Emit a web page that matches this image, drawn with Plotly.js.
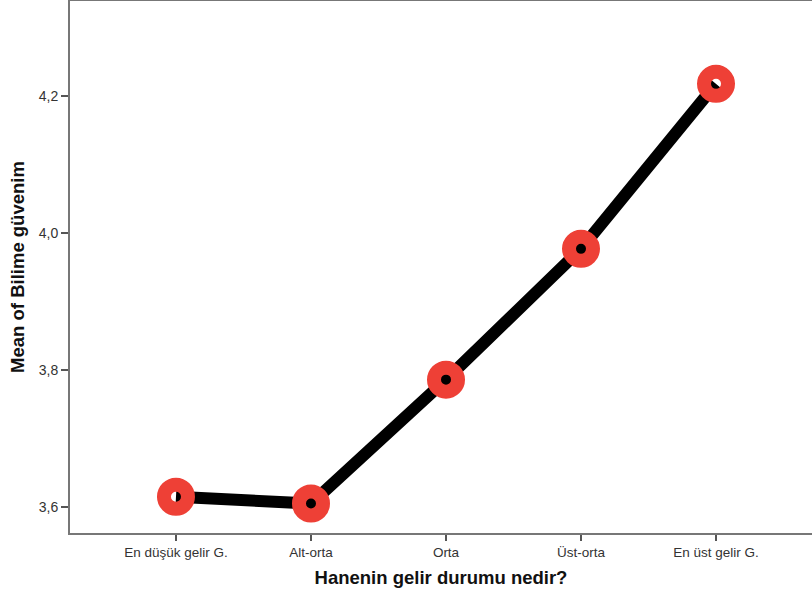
<!DOCTYPE html>
<html><head><meta charset="utf-8">
<script src="https://cdn.plot.ly/plotly-3.0.1.min.js"></script>
<style>html,body{margin:0;padding:0;background:#fff}</style>
</head><body>
<div id="chart" style="width:812px;height:595px"></div>
<script>
const categories = ["En düşük gelir G.", "Alt-orta", "Orta", "Üst-orta", "En üst gelir G."];
const meanValues = [3.615, 3.605, 3.786, 3.977, 4.218];
const yTicks = [3.6, 3.8, 4.0, 4.2];

const trace = {
  x: categories.map((c, i) => i),
  y: meanValues,
  type: 'scatter',
  mode: 'lines+markers',
  line: {color: '#000000', width: 12},
  marker: {symbol: 'circle-open', size: 24, color: '#ee4036', line: {color: '#ee4036', width: 14}},
  hoverinfo: 'skip'
};

const layout = {
  width: 812, height: 595,
  margin: {l: 70, r: 0, t: 1, b: 62},
  paper_bgcolor: '#ffffff', plot_bgcolor: '#ffffff',
  separators: ',.',
  showlegend: false,
  font: {family: 'Liberation Sans, Arial, sans-serif', color: '#333'},
  xaxis: {
    range: [-0.785, 4.711],
    tickvals: categories.map((c, i) => i),
    ticktext: categories,
    ticks: 'outside', ticklen: 6, tickwidth: 1.5, tickcolor: '#555',
    showline: true, linecolor: '#777', linewidth: 2, mirror: true,
    showgrid: false, zeroline: false,
    tickfont: {size: 13.5, color: '#333'},
    title: {text: 'Hanenin gelir durumu nedir?', font: {size: 18.5, color: '#111', family: 'Liberation Sans, Arial, sans-serif', weight: 'bold'}, standoff: 12}
  },
  yaxis: {
    range: [3.562, 4.339],
    tickvals: yTicks,
    tickformat: '.1f',
    ticks: 'outside', ticklen: 7, tickwidth: 1.5, tickcolor: '#555',
    showline: true, linecolor: '#777', linewidth: 2,
    showgrid: false, zeroline: false,
    tickfont: {size: 14, color: '#333'},
    title: {text: 'Mean of Bilime güvenim', font: {size: 18.5, color: '#111', family: 'Liberation Sans, Arial, sans-serif', weight: 'bold'}, standoff: 9}
  }
};

Plotly.newPlot('chart', [trace], layout, {displayModeBar: false, staticPlot: true});
</script>
</body></html>
